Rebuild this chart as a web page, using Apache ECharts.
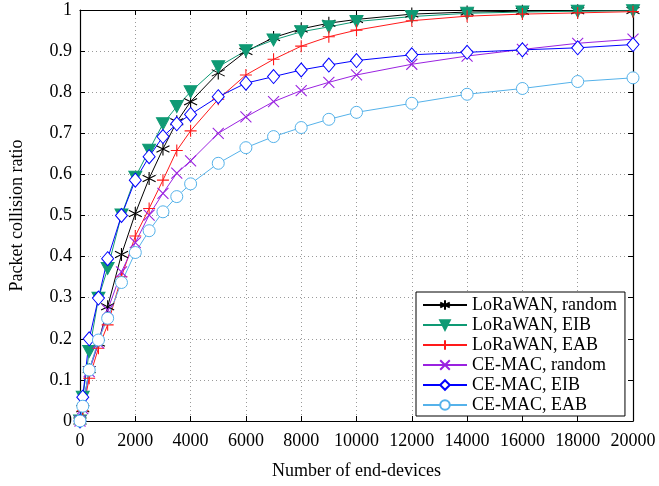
<!DOCTYPE html>
<html>
<head>
<meta charset="utf-8">
<script src="https://cdn.jsdelivr.net/npm/echarts@6/dist/echarts.min.js"></script>
<style>
  html, body { margin: 0; padding: 0; background: #fff; }
  #chart { width: 659px; height: 486px; }
</style>
</head>
<body>
<div id="chart"></div>
<script>
// Number of end-devices (x positions of the samples)
const devices = [0, 100, 333, 667, 1000, 1500, 2000, 2500, 3000, 3500, 4000, 5000, 6000, 7000, 8000, 9000, 10000, 12000, 14000, 16000, 18000, 20000];

// Packet collision ratio per scheme
const loraRandom = [0, 0.03, 0.125, 0.19, 0.278, 0.405, 0.505, 0.59, 0.662, 0.728, 0.777, 0.847, 0.899, 0.933, 0.954, 0.968, 0.977, 0.99, 0.995, 0.997, 0.998, 0.999];
const loraEIB    = [0, 0.058, 0.169, 0.299, 0.371, 0.501, 0.593, 0.659, 0.723, 0.765, 0.801, 0.862, 0.901, 0.927, 0.947, 0.959, 0.972, 0.984, 0.992, 0.995, 0.997, 0.998];
const loraEAB    = [0, 0.025, 0.104, 0.177, 0.234, 0.351, 0.45, 0.517, 0.586, 0.658, 0.706, 0.783, 0.842, 0.88, 0.912, 0.935, 0.951, 0.974, 0.985, 0.99, 0.993, 0.996];
const ceRandom   = [0, 0.03, 0.12, 0.19, 0.27, 0.363, 0.434, 0.501, 0.554, 0.603, 0.633, 0.70, 0.74, 0.777, 0.804, 0.824, 0.842, 0.868, 0.888, 0.904, 0.919, 0.929];
const ceEIB      = [0, 0.058, 0.2, 0.299, 0.395, 0.5, 0.586, 0.643, 0.692, 0.723, 0.746, 0.789, 0.822, 0.838, 0.854, 0.866, 0.877, 0.891, 0.897, 0.903, 0.908, 0.916];
const ceEAB      = [0, 0.036, 0.124, 0.197, 0.25, 0.337, 0.41, 0.463, 0.509, 0.546, 0.577, 0.627, 0.665, 0.692, 0.714, 0.734, 0.751, 0.773, 0.795, 0.809, 0.826, 0.835];

const seriesNames = ['LoRaWAN, random', 'LoRaWAN, EIB', 'LoRaWAN, EAB', 'CE-MAC, random', 'CE-MAC, EIB', 'CE-MAC, EAB'];

const FONT = '"Liberation Serif", "DejaVu Serif", serif';

const ASTERISK = 'path://M5,0L5,10M0.67,2.5L9.33,7.5M0.67,7.5L9.33,2.5';
const PLUS = 'path://M5,0L5,10M0,5L10,5';
const CROSS = 'path://M0,0L10,10M0,10L10,0';

function pairs(ys) { return devices.map((x, i) => [x, ys[i]]); }

function strokeMark(name, ys, color, symbol, size) {
  return {
    name, type: 'line', data: pairs(ys),
    symbol, symbolSize: size, showSymbol: true,
    lineStyle: { color, width: 1 },
    itemStyle: { color: 'rgba(0,0,0,0)', borderColor: color, borderWidth: 1.1 },
    emphasis: { disabled: true }
  };
}
function fillMark(name, ys, color, symbol, size, rotate, fill) {
  return {
    name, type: 'line', data: pairs(ys),
    symbol, symbolSize: size, symbolRotate: rotate || 0, showSymbol: true,
    lineStyle: { color, width: 1 },
    itemStyle: { color: fill || color, borderColor: color, borderWidth: 1 },
    emphasis: { disabled: true }
  };
}

const gridLine = { show: true, lineStyle: { color: '#9a9a9a', width: 1, type: [1, 3] } };
const frameLine = { show: true, onZero: false, lineStyle: { color: '#000', width: 1.2 } };

const chart = echarts.init(document.getElementById('chart'), null, { renderer: 'canvas' });
chart.setOption({
  animation: false,
  backgroundColor: '#fff',
  grid: { left: 80, right: 26, top: 10, bottom: 65, containLabel: false },
  xAxis: [{
    type: 'value', min: 0, max: 20000, interval: 2000,
    name: 'Number of end-devices', nameLocation: 'middle', nameGap: 41,
    nameTextStyle: { fontFamily: FONT, fontSize: 18, color: '#000' },
    axisLine: frameLine,
    axisTick: { show: true, inside: true, length: 5, lineStyle: { color: '#000' } },
    axisLabel: { fontFamily: FONT, fontSize: 18, color: '#000', margin: 11,
      formatter: v => String(v) },
    splitLine: gridLine
  }, {
    type: 'value', min: 0, max: 20000, interval: 2000, position: 'top',
    axisLine: frameLine,
    axisTick: { show: true, inside: true, length: 5, lineStyle: { color: '#000' } },
    axisLabel: { show: false }, splitLine: { show: false }
  }],
  yAxis: [{
    type: 'value', min: 0, max: 1, interval: 0.1,
    name: 'Packet collision ratio', nameLocation: 'middle', nameGap: 54,
    nameTextStyle: { fontFamily: FONT, fontSize: 18, color: '#000' },
    axisLine: frameLine,
    axisTick: { show: true, inside: true, length: 5, lineStyle: { color: '#000' } },
    axisLabel: { fontFamily: FONT, fontSize: 18, color: '#000', margin: 8,
      formatter: v => String(+v.toFixed(1)) },
    splitLine: gridLine
  }, {
    type: 'value', min: 0, max: 1, interval: 0.1, position: 'right',
    axisLine: frameLine,
    axisTick: { show: true, inside: true, length: 5, lineStyle: { color: '#000' } },
    axisLabel: { show: false }, splitLine: { show: false }
  }],
  legend: {
    orient: 'vertical', left: 416, top: 292,
    data: seriesNames,
    backgroundColor: '#fff', borderColor: '#000', borderWidth: 1,
    padding: [4, 8, 2, 6], itemGap: 2, itemWidth: 44, itemHeight: 12,
    textStyle: { fontFamily: FONT, fontSize: 18, color: '#000', lineHeight: 18 }
  },
  series: [
    strokeMark(seriesNames[0], loraRandom, '#000000', ASTERISK, [13, 13]),
    fillMark(seriesNames[1], loraEIB, '#0f9a74', 'triangle', [13, 12], 180),
    strokeMark(seriesNames[2], loraEAB, '#ff1a1a', PLUS, [12, 12]),
    strokeMark(seriesNames[3], ceRandom, '#9a22e0', CROSS, [11, 11]),
    fillMark(seriesNames[4], ceEIB, '#0000ff', 'diamond', [12, 14], 0, '#ffffff'),
    fillMark(seriesNames[5], ceEAB, '#55b2ea', 'circle', [12, 12], 0, '#ffffff')
  ]
});
</script>
</body>
</html>
